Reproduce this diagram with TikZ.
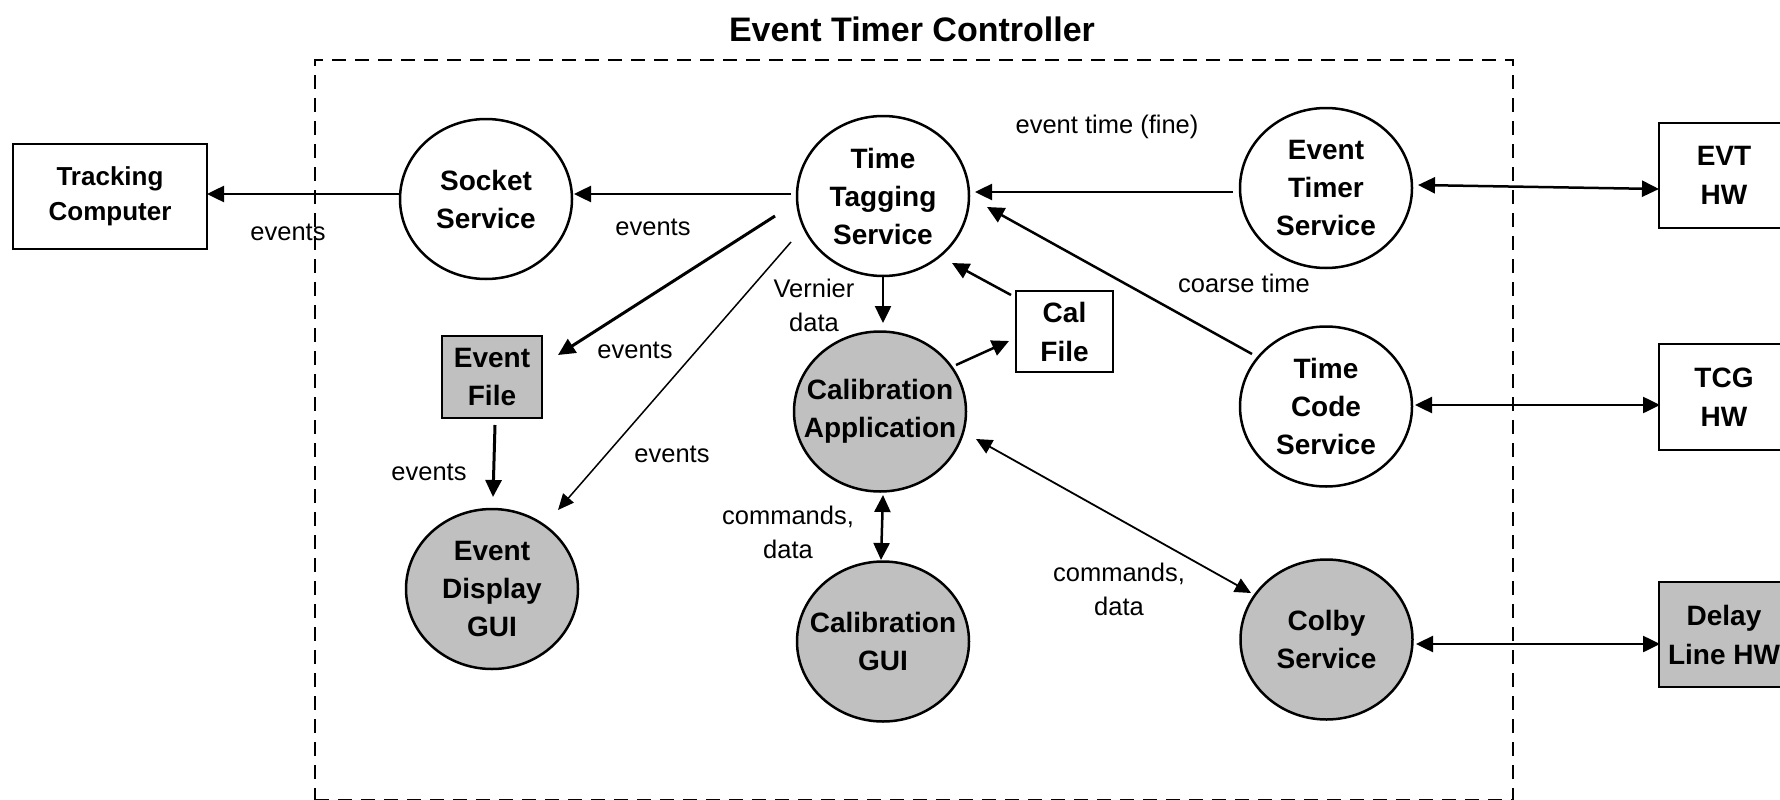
\documentclass[tikz,border=0pt]{standalone}
\usepackage{fontspec}
\setmainfont{Liberation Sans}
\usetikzlibrary{shapes.geometric,arrows.meta,calc}
\definecolor{fillgray}{RGB}{192,192,192}
\begin{document}
\begin{tikzpicture}[x=1pt,y=-1pt,
  svc/.style={ellipse, draw, line width=2.5pt, minimum width=172pt, minimum height=160pt, inner sep=0pt},
  svcg/.style={svc, fill=fillgray},
  svctext/.style={font=\fontsize{28}{38}\selectfont\bfseries, align=center, inner sep=0pt},
  box/.style={rectangle, draw, line width=2.5pt, inner sep=0pt, font=\fontsize{28}{39}\selectfont\bfseries, align=center},
  boxg/.style={box, fill=fillgray},
  lbl/.style={font=\fontsize{25.5}{34}\selectfont, anchor=base, inner sep=0pt, align=center},
  tipA/.tip={Triangle[length=17pt,width=16pt]},
  arr/.style={line width=2.5pt, -tipA},
  arrthick/.style={line width=3pt, -tipA},
  arrthin/.style={line width=1.5pt, -{Triangle[length=16pt,width=14pt]}},
  dbl/.style={line width=2.5pt, tipA-tipA},
  dblthin/.style={line width=1.8pt, {Triangle[length=16pt,width=15pt]}-{Triangle[length=16pt,width=15pt]}},
  frame/.style={draw, line width=2.5pt, dash pattern=on 14pt off 9pt, inner sep=0pt}
]
\useasboundingbox (0,0) rectangle (1780,800);

% frame and title
\node[frame, minimum width=1198pt, minimum height=740pt] (ctl) at (914,430) {};
\node[font=\fontsize{34}{40}\selectfont\bfseries, anchor=base, inner sep=0pt] (title) at (912,42) {Event Timer Controller};

% nodes
\node[box, minimum width=194pt, minimum height=105pt, font=\fontsize{26}{35}\selectfont\bfseries] (tc) at (110,196.5) {Tracking\\Computer};
\node[svc, label={[svctext]center:{Socket\\Service}}] (ss) at (486,199) {};
\node[svc, label={[svctext]center:{Time\\Tagging\\Service}}] (tts) at (883,196) {};
\node[svc, label={[svctext]center:{Event\\Timer\\Service}}] (ets) at (1326,188) {};
\node[box, minimum width=130pt, minimum height=105pt] (evthw) at (1724,175.5) {EVT\\HW};
\node[boxg, minimum width=100pt, minimum height=82pt] (ef) at (492,377) {Event\\File};
\node[svcg, label={[svctext]center:{Event\\Display\\GUI}}] (edg) at (492,589) {};
\node[svcg, label={[svctext]center:{Calibration\\Application}}] (ca) at (880,411.5) {};
\node[svcg, label={[svctext]center:{Calibration\\GUI}}] (cg) at (883,641.5) {};
\node[box, minimum width=97pt, minimum height=81pt] (cf) at (1064.5,331.5) {Cal\\File};
\node[svc, label={[svctext]center:{Time\\Code\\Service}}] (tcs) at (1326,406.5) {};
\node[box, minimum width=130pt, minimum height=106pt] (tcghw) at (1724,397) {TCG\\HW};
\node[svcg, label={[svctext]center:{Colby\\Service}}] (cs) at (1326.5,639.5) {};
\node[boxg, minimum width=130pt, minimum height=105pt] (dlhw) at (1724,634.5) {Delay\\Line HW};

% connectors
\draw[arr] ($(ss)+(-85,-5)$) -- ($(tc)+(97,-2.5)$);
\draw[arr] ($(tts)+(-92,-2)$) -- ($(ss)+(88,-5)$);
\draw[arr] ($(ets)+(-93,4)$) -- ($(tts)+(92,-4)$);
\draw[dbl] ($(ets)+(92,-3)$) -- ($(evthw)+(-65,13.5)$);
\draw[arrthick] ($(tts)+(-108,20)$) -- ($(ef)+(66,-22)$);
\draw[arrthin] ($(tts)+(-92,46)$) -- ($(edg)+(66,-79)$);
\draw[arrthick] ($(ef)+(3,48)$) -- ($(edg)+(1,-92)$);
\draw[arr] ($(tts)+(0,81)$) -- ($(ca)+(3,-88.5)$);
\draw[arr] ($(ca)+(76,-46.5)$) -- ($(cf)+(-55.5,9.5)$);
\draw[arr] ($(cf)+(-53.5,-36.5)$) -- ($(tts)+(69,67)$);
\draw[arr] ($(tcs)+(-74,-52.5)$) -- ($(tts)+(104,11)$);
\draw[dbl] ($(tcs)+(89,-1.5)$) -- ($(tcghw)+(-64,8)$);
\draw[dbl] ($(ca)+(3,83.5)$) -- ($(cg)+(-2,-81.5)$);
\draw[dblthin] ($(ca)+(96,27.5)$) -- ($(cs)+(-75.5,-46.5)$);
\draw[dbl] ($(cs)+(89.5,4.5)$) -- ($(dlhw)+(-64,9.5)$);

% labels
\node[lbl] (l1) at (288,240) {events};
\node[lbl] (l2) at (653,235) {events};
\node[lbl] (l3) at (1107,133) {event time (fine)};
\node[lbl] (l4) at (1244,292) {coarse time};
\node[lbl] (l5) at (814,331) {Vernier\\data};
\node[lbl] (l6) at (635,358) {events};
\node[lbl] (l7) at (672,462) {events};
\node[lbl] (l8) at (429,480) {events};
\node[lbl] (l9) at (788,558) {commands,\\data};
\node[lbl] (l10) at (1119,615) {commands,\\data};
\end{tikzpicture}
\end{document}
